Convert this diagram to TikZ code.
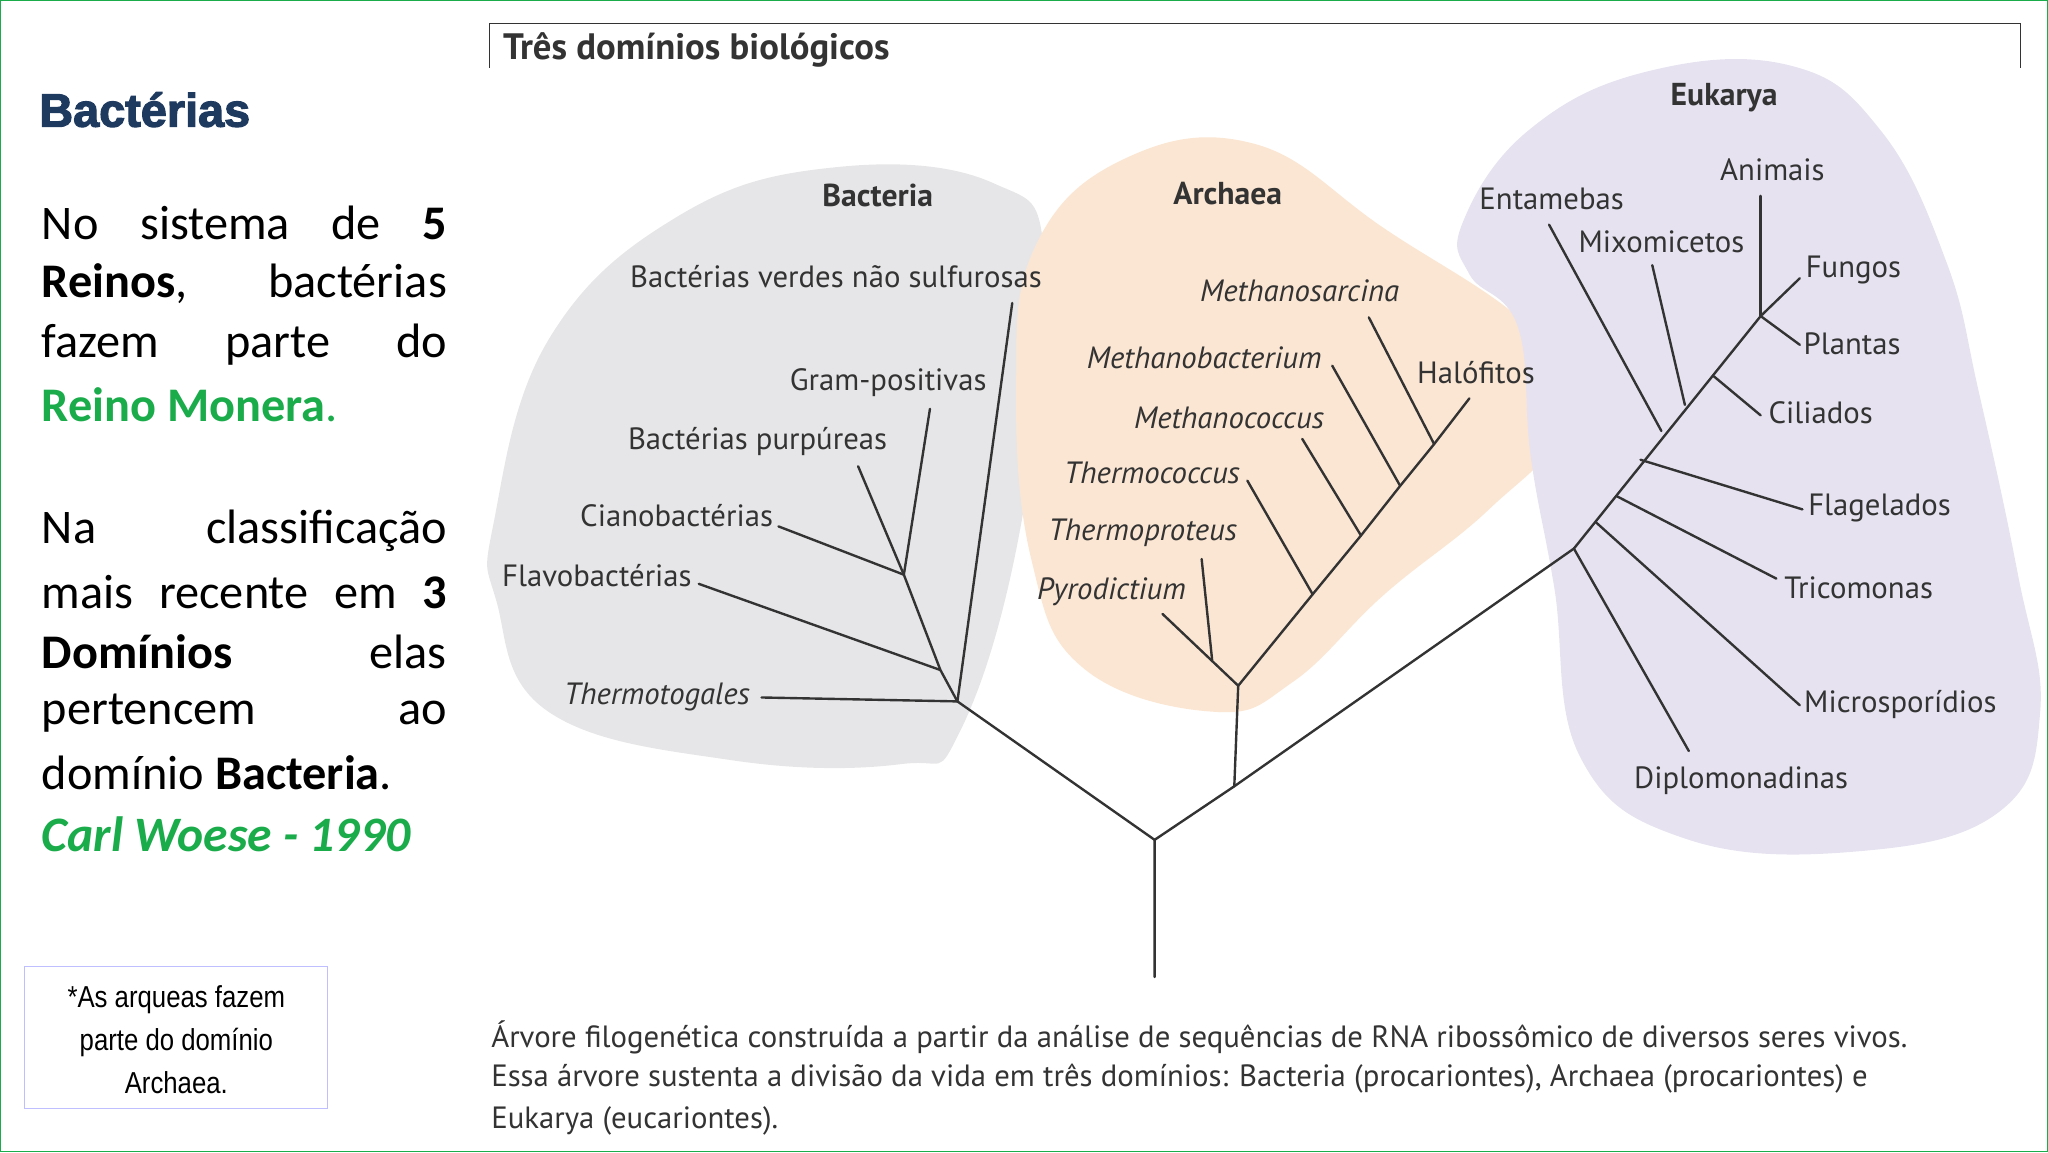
\documentclass[tikz,border=0pt]{standalone}
\usepackage{fontspec}
\setmainfont{Carlito}
\newfontfamily\lbl{PT Sans}
\newfontfamily\narrowf[FakeStretch=0.85]{Liberation Sans}
\newfontfamily\heavy[BoldFeatures={FakeBold=2.5}]{Liberation Sans}
\definecolor{grn}{HTML}{1AAB4B}
\definecolor{navy}{HTML}{1F3A5F}
\definecolor{bgB}{HTML}{E6E6E8}
\definecolor{bgA}{HTML}{FBE6D3}
\definecolor{bgE}{HTML}{E6E2F0}
\definecolor{ink}{HTML}{333333}
\begin{document}
\begin{tikzpicture}[x=0.05cm,y=-0.05cm,
 br/.style={draw=ink,line width=2.6pt,line cap=round},
 lb/.style={font=\lbl\fontsize{33.5pt}{38pt}\selectfont,text=ink,inner sep=0pt},
 il/.style={lb,font=\lbl\itshape\fontsize{33.5pt}{38pt}\selectfont},
 dom/.style={lb,font=\lbl\bfseries\fontsize{34.5pt}{38pt}\selectfont},
 ln/.style={anchor=west,inner sep=0pt,font=\fontsize{52.6pt}{60pt}\selectfont}]
\useasboundingbox (0,0) rectangle (1568,882);
\draw[grn,line width=1.5pt] (0.5,0.5) rectangle (1567.5,881.5);
% blobs
\fill[bgB] plot[smooth cycle,tension=0.7] coordinates {(378,400) (420,260) (520,165) (640,128) (760,140) (800,200) (782,400) (735,560) (690,585) (560,582) (420,545) (380,460)};
\fill[bgA] plot[smooth cycle,tension=0.7] coordinates {(792,190) (860,122) (960,110) (1060,175) (1175,255) (1197,325) (1140,390) (1060,455) (990,522) (930,545) (830,512) (790,430) (778,300)};
\fill[bgE] plot[smooth cycle,tension=0.7] coordinates {(1120,170) (1170,100) (1260,55) (1370,50) (1440,100) (1490,200) (1515,300) (1545,440) (1562,545) (1530,622) (1420,652) (1290,642) (1210,580) (1190,450) (1172,350) (1162,250) (1125,210)};
% title frame
\draw[ink,line width=1.5pt] (375,52) -- (375,18) -- (1547,18) -- (1547,52);
\node[anchor=west,font=\lbl\bfseries\fontsize{40pt}{44pt}\selectfont,text=ink,inner sep=0pt] (title) at (385,38) {Três domínios biológicos};
% tree coordinates
\coordinate (r0) at (884,748); \coordinate (r) at (884,643);
\coordinate (B) at (733,537); \coordinate (m) at (945,602); \coordinate (A) at (948,525); \coordinate (E) at (1205,420);
\coordinate (b1) at (720,513); \coordinate (b2) at (692,440);
\coordinate (a1) at (928,505); \coordinate (a2) at (1005,455); \coordinate (a3) at (1042,410); \coordinate (a4) at (1072,372); \coordinate (a5) at (1098,340);
\coordinate (e1) at (1222,400); \coordinate (e2) at (1238,380); \coordinate (e3) at (1256,352); \coordinate (e4) at (1272,330); \coordinate (e5) at (1290,310); \coordinate (e6) at (1312,288); \coordinate (e7) at (1348,242);
% labels
\node[dom] (lB) at (672,150) {Bacteria};
\node[dom] (lA) at (940,148) {Archaea};
\node[dom] (lE) at (1320,75) {Eukarya};
\node[lb] (verd) at (640,212) {Bactérias verdes não sulfurosas};
\node[lb] (gram) at (680,293) {Gram-positivas};
\node[lb] (purp) at (580,338) {Bactérias purpúreas};
\node[lb] (cian) at (518,395) {Cianobactérias};
\node[lb] (flav) at (457,441) {Flavobactérias};
\node[il] (ttg) at (503,534) {Thermotogales};
\node[il] (msar) at (995,223) {Methanosarcina};
\node[il] (mbac) at (922,274) {Methanobacterium};
\node[il] (mcoc) at (941,320) {Methanococcus};
\node[il] (tcoc) at (882,362) {Thermococcus};
\node[il] (tpro) at (875,408) {Thermoproteus};
\node[il] (pyro) at (851,453) {Pyrodictium};
\node[lb] (halo) at (1130,285) {Halófitos};
\node[lb] (ent) at (1188,152) {Entamebas};
\node[lb] (mix) at (1272,185) {Mixomicetos};
\node[lb] (ani) at (1357,130) {Animais};
\node[lb] (fun) at (1419,207) {Fungos};
\node[lb] (pla) at (1418,263) {Plantas};
\node[lb] (cil) at (1394,316) {Ciliados};
\node[lb] (fla) at (1439,389) {Flagelados};
\node[lb] (tri) at (1423,450) {Tricomonas};
\node[lb] (mic) at (1455,539) {Microsporídios};
\node[lb] (dip) at (1333,598) {Diplomonadinas};
% branches
\draw[br] (r0) -- (r) -- (B); \draw[br] (r) -- (m) -- (E); \draw[br] (m) -- (A);
\draw[br] (B) -- (583,534); \draw[br] (B) -- (775,232); \draw[br] (B) -- (b1) -- (b2);
\draw[br] (b1) -- (535,447); \draw[br] (b2) -- (596,403); \draw[br] (b2) -- (657,357); \draw[br] (b2) -- (712,313);
\draw[br] (A) -- (890,470); \draw[br] (a1) -- (920,428);
\draw[br] (A) -- (a2) -- (a3) -- (a4) -- (a5) -- (1125,305);
\draw[br] (a2) -- (955,368); \draw[br] (a3) -- (997,336); \draw[br] (a4) -- (1020,280); \draw[br] (a5) -- (1048,243);
\draw[br] (E) -- (1293,575); \draw[br] (e1) -- (1378,540); \draw[br] (e2) -- (1360,443); \draw[br] (e3) -- (1380,390);
\draw[br] (E) -- (e7); \draw[br] (e4) -- (1186,172); \draw[br] (e5) -- (1265,203); \draw[br] (e6) -- (1348,318);
\draw[br] (e7) -- (1348,150); \draw[br] (e7) -- (1378,264); \draw[br] (e7) -- (1378,213);
% caption
\node[anchor=west,lb] (c1) at (376,794) {Árvore filogenética construída a partir da análise de sequências de RNA ribossômico de diversos seres vivos.};
\node[anchor=west,lb] (c2) at (376,826) {Essa árvore sustenta a divisão da vida em três domínios: Bacteria (procariontes), Archaea (procariontes) e};
\node[anchor=west,lb] (c3) at (376,858) {Eukarya (eucariontes).};
% left text
\node[anchor=west,inner sep=0pt,text=navy,font=\heavy\bfseries\fontsize{51pt}{56pt}\selectfont] (hd) at (30,84) {Bactérias};
\node[ln] (t1) at (32,171) {\hbox to 441pt{No\hfill sistema\hfill de\hfill \textbf{5}}};
\node[ln] (t2) at (32,217) {\hbox to 441pt{\textbf{Reinos},\hfill bactérias}};
\node[ln] (t3) at (32,264) {\hbox to 441pt{fazem\hfill parte\hfill do}};
\node[ln,text=grn] (t4) at (32,310) {\textbf{Reino Monera}.};
\node[ln] (t5) at (32,406) {\hbox to 441pt{Na\hfill classificação}};
\node[ln] (t6) at (32,453) {\hbox to 441pt{mais\hfill recente\hfill em\hfill \textbf{3}}};
\node[ln] (t7) at (32,499) {\hbox to 441pt{\textbf{Domínios}\hfill elas}};
\node[ln] (t8) at (32,546) {\hbox to 441pt{pertencem\hfill ao}};
\node[ln] (t9) at (32,592) {domínio \textbf{Bacteria}.};
\node[ln,text=grn,font=\bfseries\itshape\fontsize{54pt}{60pt}\selectfont] (t10) at (32,639) {Carl Woese - 1990};
% note
\draw[draw=blue!25,line width=1pt] (19,740) rectangle (251,849);
\node[align=center,inner sep=0pt,font=\narrowf\fontsize{33pt}{47pt}\selectfont] (note) at (135,796) {*As arqueas fazem\\parte do domínio\\Archaea.};
\end{tikzpicture}
\end{document}
